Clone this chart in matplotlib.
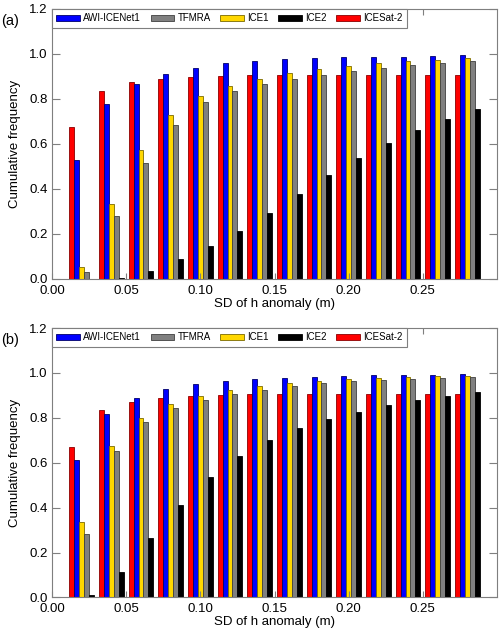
import numpy as np
import matplotlib
matplotlib.use("Agg")
import matplotlib.pyplot as plt

plt.rcParams['font.family'] = ['Liberation Sans', 'DejaVu Sans']

# bin centres of SD of h anomaly (m)
sd_bins = [0.02, 0.04, 0.06, 0.08, 0.10, 0.12, 0.14, 0.16, 0.18, 0.20, 0.22, 0.24, 0.26, 0.28]

# panel (a)
a_icesat2 = [0.673, 0.836, 0.873, 0.889, 0.898, 0.902, 0.905, 0.905, 0.905, 0.905, 0.905, 0.905, 0.905, 0.905]
a_awi = [0.527, 0.778, 0.864, 0.911, 0.939, 0.958, 0.970, 0.976, 0.981, 0.985, 0.987, 0.988, 0.991, 0.993]
a_ice1 = [0.055, 0.332, 0.572, 0.729, 0.815, 0.859, 0.889, 0.913, 0.932, 0.945, 0.958, 0.967, 0.973, 0.981]
a_tfmra = [0.033, 0.280, 0.514, 0.686, 0.785, 0.836, 0.867, 0.889, 0.908, 0.926, 0.939, 0.950, 0.960, 0.967]
a_ice2 = [0.0, 0.006, 0.037, 0.089, 0.148, 0.213, 0.292, 0.378, 0.461, 0.536, 0.604, 0.663, 0.711, 0.754]

# panel (b)
b_icesat2 = [0.672, 0.835, 0.872, 0.889, 0.898, 0.902, 0.905, 0.905, 0.905, 0.905, 0.905, 0.905, 0.905, 0.905]
b_awi = [0.614, 0.817, 0.890, 0.928, 0.950, 0.964, 0.973, 0.979, 0.984, 0.987, 0.990, 0.991, 0.992, 0.994]
b_ice1 = [0.336, 0.673, 0.801, 0.862, 0.898, 0.924, 0.941, 0.954, 0.965, 0.973, 0.978, 0.982, 0.985, 0.988]
b_tfmra = [0.284, 0.654, 0.783, 0.844, 0.880, 0.905, 0.925, 0.942, 0.953, 0.963, 0.970, 0.975, 0.978, 0.982]
b_ice2 = [0.011, 0.112, 0.264, 0.413, 0.538, 0.632, 0.702, 0.754, 0.794, 0.828, 0.855, 0.878, 0.898, 0.914]

fig = plt.figure(figsize=(5, 6.34), dpi=100)
ax_a = fig.add_axes([0.104, 0.560, 0.890, 0.426])
ax_b = fig.add_axes([0.104, 0.0576, 0.890, 0.425])

w = 0.0033
x = np.array(sd_bins)
spine_col = '#7f7f7f'


def draw_panel(ax, icesat2, awi, ice1, tfmra, ice2, tag):
    # bars drawn left to right: ICESat-2, AWI, ICE1, TFMRA, ICE2
    kw = dict(width=w, align='edge', linewidth=0.6)
    b_red = ax.bar(x - 2.5 * w, icesat2, color='#ff0000', edgecolor='#8a0000', **kw)
    b_blue = ax.bar(x - 1.5 * w, awi, color='#0000ff', edgecolor='#00006a', **kw)
    b_yel = ax.bar(x - 0.5 * w, ice1, color='#ffd700', edgecolor='#7a6a00', **kw)
    b_gray = ax.bar(x + 0.5 * w, tfmra, color='#808080', edgecolor='#404040', **kw)
    b_blk = ax.bar(x + 1.5 * w, ice2, color='#000000', edgecolor='#000000', **kw)

    ax.set_xlim(0, 0.30)
    ax.set_ylim(0, 1.2)
    ax.set_xticks([0.0, 0.05, 0.10, 0.15, 0.20, 0.25])
    ax.set_xticklabels(['0.00', '0.05', '0.10', '0.15', '0.20', '0.25'])
    ax.set_yticks([0.0, 0.2, 0.4, 0.6, 0.8, 1.0, 1.2])
    ax.set_yticklabels(['0.0', '0.2', '0.4', '0.6', '0.8', '1.0', '1.2'])
    ax.tick_params(axis='both', direction='in', top=True, right=True,
                   color=spine_col, labelsize=9.5, width=0.8)
    ax.tick_params(axis='x', length=4, pad=4)
    ax.tick_params(axis='y', length=6, pad=3)
    for s in ax.spines.values():
        s.set_color(spine_col)
        s.set_linewidth(0.8)
    ax.set_xlabel('SD of h anomaly (m)', fontsize=9.5, labelpad=1)
    ax.set_ylabel('Cumulative frequency', fontsize=9.5, labelpad=6)

    leg = ax.legend([b_blue, b_gray, b_yel, b_blk, b_red],
                    ['AWI-ICENet1', 'TFMRA', 'ICE1', 'ICE2', 'ICESat-2'],
                    ncol=5, loc='upper left', bbox_to_anchor=(0.0, 1.0),
                    fontsize=7.0, handlelength=2.45, handleheight=0.65,
                    handletextpad=0.3, columnspacing=1.0, borderpad=0.45,
                    borderaxespad=0.0, fancybox=False, framealpha=1)
    leg.get_frame().set_edgecolor(spine_col)
    leg.get_frame().set_linewidth(0.8)
    ax.text(-0.115, 0.955, tag, transform=ax.transAxes, fontsize=10.5,
            ha='left', va='center')


draw_panel(ax_a, a_icesat2, a_awi, a_ice1, a_tfmra, a_ice2, '(a)')
draw_panel(ax_b, b_icesat2, b_awi, b_ice1, b_tfmra, b_ice2, '(b)')

fig.savefig('out.png', dpi=100)
